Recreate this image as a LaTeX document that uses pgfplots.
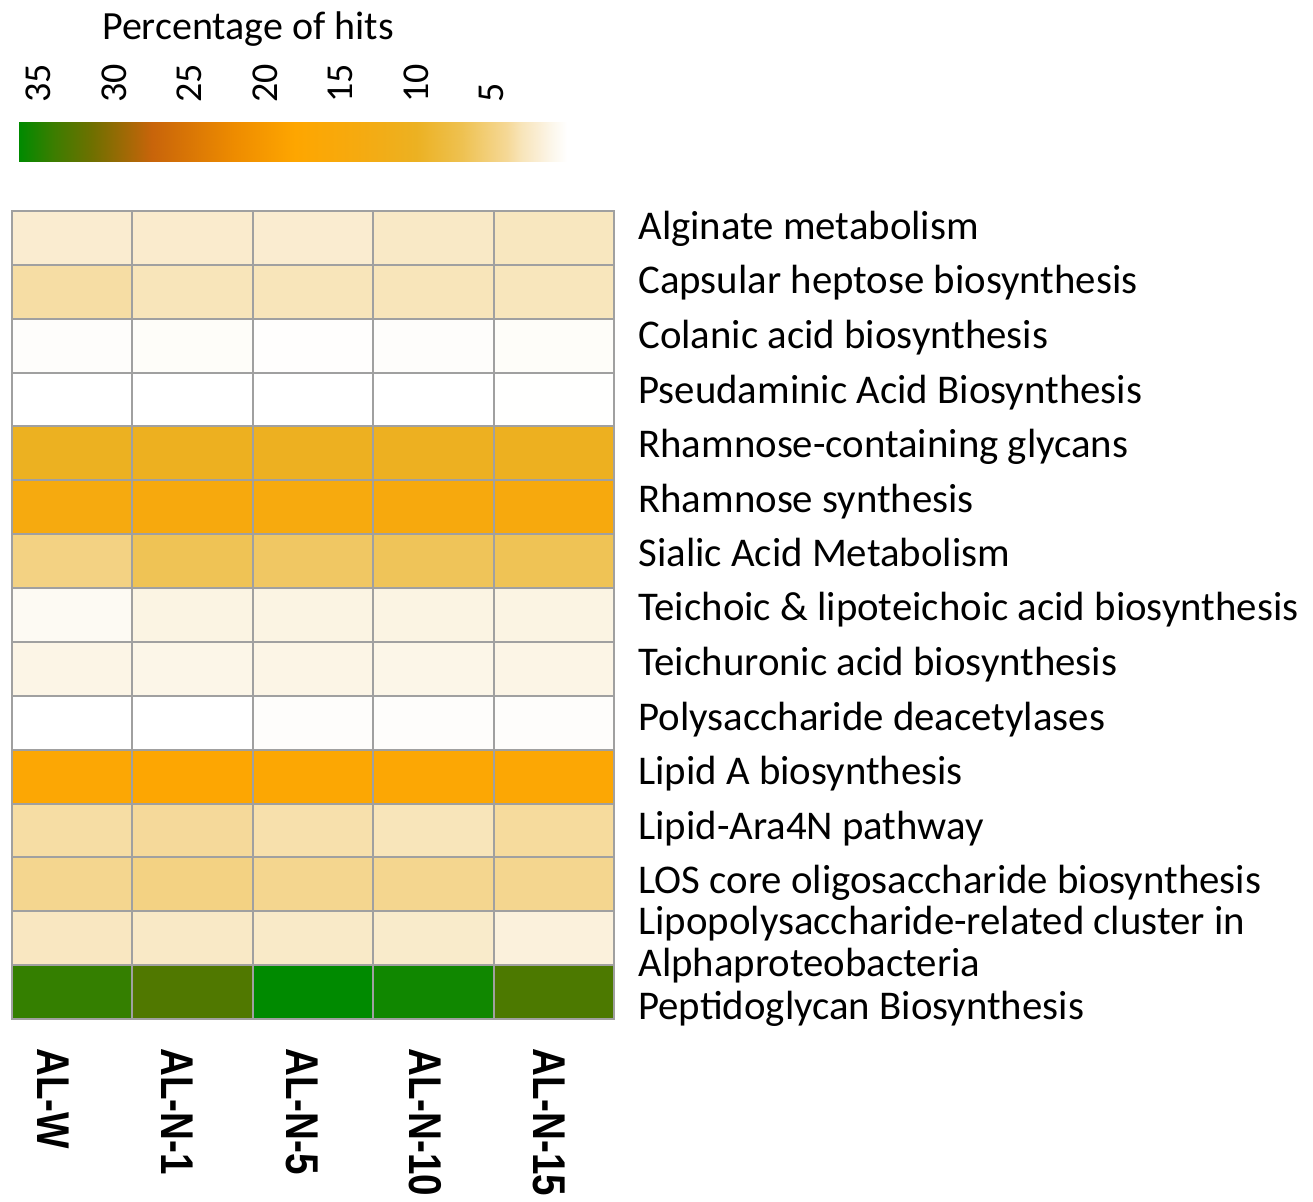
\documentclass[border=0pt]{standalone}
\usepackage{pgfplots}
\pgfplotsset{compat=1.18}
\usepackage{pgfplotstable}
\usepackage{fontspec}
\setmainfont{Carlito}
\newfontfamily\arialfont{Liberation Sans}
\definecolor{gridgray}{RGB}{160,160,160}
\pgfplotsset{
  colormap={hits}{
    rgb255(0pt)=(255,255,255)
    rgb255(10pt)=(252,247,235)
    rgb255(20pt)=(250,237,210)
    rgb255(30pt)=(248,229,186)
    rgb255(40pt)=(245,216,150)
    rgb255(55pt)=(242,205,115)
    rgb255(70pt)=(238,193,80)
    rgb255(100pt)=(236,177,34)
    rgb255(140pt)=(246,170,15)
    rgb255(180pt)=(254,166,0)
    rgb255(220pt)=(238,140,0)
    rgb255(275pt)=(200,100,10)
    rgb255(315pt)=(110,112,0)
    rgb255(340pt)=(60,125,0)
    rgb255(363pt)=(0,138,0)
  }
}
\pgfplotstableread{
x y v
0 0 34.3
1 0 33.0
2 0 36.3
3 0 35.7
4 0 33.2
0 1 2.7
1 1 2.5
2 1 2.4
3 1 2.3
4 1 1.6
0 2 4.3
1 2 4.8
2 2 4.3
3 2 4.3
4 2 4.3
0 3 3.6
1 3 3.9
2 3 3.4
3 3 3.0
4 3 3.8
0 4 17.0
1 4 17.5
2 4 17.2
3 4 17.0
4 4 17.0
0 5 0.0
1 5 0.0
2 5 0.2
3 5 0.2
4 5 0.2
0 6 1.2
1 6 1.1
2 6 1.2
3 6 1.1
4 6 1.2
0 7 0.6
1 7 1.3
2 7 1.3
3 7 1.3
4 7 1.3
0 8 4.8
1 8 6.8
2 8 6.2
3 8 6.6
4 8 6.8
0 9 14.0
1 9 14.5
2 9 14.3
3 9 14.6
4 9 14.5
0 10 10.2
1 10 10.4
2 10 10.3
3 10 10.3
4 10 10.4
0 11 0.0
1 11 0.0
2 11 0.0
3 11 0.0
4 11 0.05
0 12 0.2
1 12 0.3
2 12 0.1
3 12 0.2
4 12 0.3
0 13 3.6
1 13 3.0
2 13 3.0
3 13 3.0
4 13 2.9
0 14 2.1
1 14 2.2
2 14 2.1
3 14 2.5
4 14 2.8
}\datatable
\begin{document}
\begin{tikzpicture}
\begin{axis}[
  at={(6pt,-105.5pt)}, anchor=north west,
  scale only axis, width=301pt, height=404pt,
  xmin=-0.5, xmax=4.5, ymin=-0.5, ymax=14.5,
  enlargelimits=false,
  colormap name=hits,
  point meta min=0, point meta max=36.3,
  axis on top,
  axis line style={draw=gridgray, line width=1pt},
  minor xtick={0.5,1.5,2.5,3.5},
  minor ytick={0.5,1.5,...,13.5},
  grid=minor,
  minor grid style={draw=gridgray, line width=1pt},
  major tick length=0pt, minor tick length=0pt,
  xtick={-0.155,0.870,1.909,2.930,3.960},
  xticklabels={AL-W,AL-N-1,AL-N-5,AL-N-10,AL-N-15},
  xticklabel style={rotate=-90, yscale=1.19, anchor=west, inner sep=0pt, font=\arialfont\bfseries\fontsize{19.3}{23}\selectfont},
  xticklabel shift=14.5pt,
  ytick={-0.36,0.28,1.06,1.83,2.84,3.85,4.86,5.87,6.89,7.90,8.91,9.92,10.93,11.95,12.96,13.97},
  yticklabels={\raisebox{-4pt}{Peptidoglycan Biosynthesis},Alphaproteobacteria,Lipopolysaccharide-related cluster in,LOS core oligosaccharide biosynthesis,Lipid-Ara4N pathway,Lipid A biosynthesis,Polysaccharide deacetylases,Teichuronic acid biosynthesis,Teichoic \& lipoteichoic acid biosynthesis,Sialic Acid Metabolism,Rhamnose synthesis,Rhamnose-containing glycans,Pseudaminic Acid Biosynthesis,Colanic acid biosynthesis,Capsular heptose biosynthesis,Alginate metabolism},
  yticklabel pos=right,
  yticklabel style={anchor=base west, inner sep=0pt, font=\fontsize{20.4}{24}\selectfont},
  yticklabel shift=12pt,
]
\addplot[matrix plot*, mesh/cols=5, point meta=explicit] table[x=x, y=y, meta=v] {\datatable};
\end{axis}
\begin{axis}[
  at={(9.5pt,-81pt)}, anchor=south west,
  scale only axis, width=274pt, height=20pt,
  xmin=0, xmax=36.3, ymin=0, ymax=1, x dir=reverse,
  enlargelimits=false,
  colormap name=hits,
  point meta min=0, point meta max=36.3,
  axis line style={draw=none},
  major tick length=0pt,
  ytick=\empty,
  xtick={5,10,15,20,25,30,35},
  xticklabels={5,10,15,20,25,30,35},
  xticklabel pos=upper,
  xticklabel style={rotate=90, anchor=west, inner sep=0pt, font=\fontsize{19}{23}\selectfont},
  xticklabel shift=9.5pt,
]
\addplot[surf, shader=interp, point meta=x, mesh/rows=2] coordinates {
(0,0) (36.3,0)

(0,1) (36.3,1)
};
\end{axis}
\node[anchor=base, inner sep=0pt, font=\fontsize{20}{24}\selectfont] at (124pt,-20pt) {Percentage of hits};
\pgfresetboundingbox
\useasboundingbox (0,0) rectangle (656.5pt,-601pt);
\end{tikzpicture}
\end{document}
